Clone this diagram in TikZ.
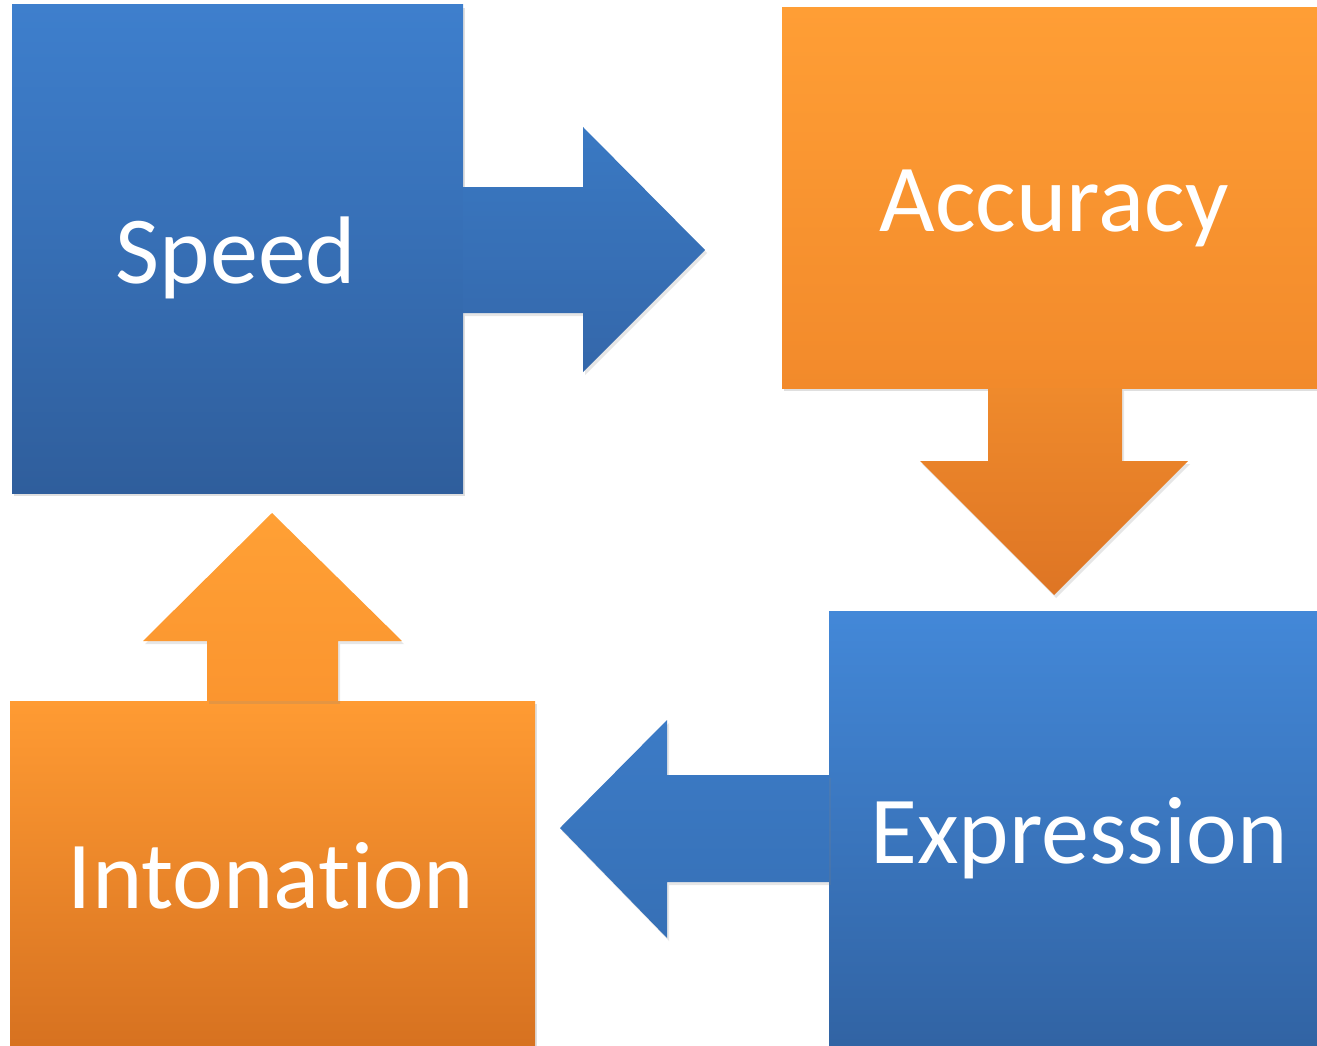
\documentclass[tikz,border=0pt]{standalone}
\usepackage{fontspec}
\setmainfont{Carlito}[Ligatures=NoCommon]
\usepackage{tikz}
\usetikzlibrary{calc,shadows}
\definecolor{spdtop}{HTML}{3E7FCD}
\definecolor{spdbot}{HTML}{2F5E9C}
\definecolor{acctop}{HTML}{FF9E35}
\definecolor{accbot}{HTML}{F28A2B}
\definecolor{exptop}{HTML}{4388D8}
\definecolor{expbot}{HTML}{3163A3}
\definecolor{inttop}{HTML}{FF9B33}
\definecolor{intbot}{HTML}{D67120}
\definecolor{rarrtop}{HTML}{3A79C3}
\definecolor{rarrbot}{HTML}{3467AA}
\definecolor{darrtop}{HTML}{EF8A2C}
\definecolor{darrbot}{HTML}{DE7524}
\definecolor{larrtop}{HTML}{3C7BC6}
\definecolor{larrbot}{HTML}{3670B6}
\definecolor{uarrtop}{HTML}{FFA035}
\definecolor{uarrbot}{HTML}{FB952F}
\tikzset{
  box/.style={inner sep=0pt,
    drop shadow={shadow xshift=2pt, shadow yshift=-3pt, opacity=0.25}},
  bluebox/.style 2 args={box, top color=#1, bottom color=#2},
  orangebox/.style 2 args={box, top color=#1, bottom color=#2},
  label/.style={inner sep=0pt, text=white, font=\fontsize{96}{110}\selectfont},
  arrowfill/.style 2 args={top color=#1, bottom color=#2, draw=none,
    drop shadow={shadow xshift=2pt, shadow yshift=-3pt, opacity=0.2}}
}

\begin{document}
\begin{tikzpicture}[x=1pt,y=-1pt]
\useasboundingbox (0,0) rectangle (1317,1046);
% the four boxes
\node[bluebox={spdtop}{spdbot}, minimum width=451pt, minimum height=488pt] (speed) at (237.5,249) {};
\node[orangebox={acctop}{accbot}, minimum width=540pt, minimum height=380pt] (accuracy) at (1052,198) {};
\node[bluebox={exptop}{expbot}, minimum width=490pt, minimum height=440pt] (expression) at (1074,831) {};
\node[orangebox={inttop}{intbot}, minimum width=525pt, minimum height=350pt] (intonation) at (272.5,876) {};
% block arrows
\shade[arrowfill={rarrtop}{rarrbot}] (speed.east |- 0,187) -- (583,187) -- (583,127) -- (705,250)
  -- (583,372) -- (583,313) -- (speed.east |- 0,313) -- cycle;
\shade[arrowfill={darrtop}{darrbot}] (988,0 |- accuracy.south) -- (988,461) -- (920,461) -- (1054,595)
  -- (1188,461) -- (1122,461) -- (1122,0 |- accuracy.south) -- cycle;
\shade[arrowfill={larrtop}{larrbot}] (expression.west |- 0,775) -- (667,775) -- (667,720) -- (560,828)
  -- (667,938) -- (667,882) -- (expression.west |- 0,882) -- cycle;
\shade[arrowfill={uarrtop}{uarrbot}] (207,0 |- intonation.north) -- (207,641) -- (143,641) -- (272,513)
  -- (402,641) -- (338,641) -- (338,0 |- intonation.north) -- cycle;
% labels
\node[label] (speedtxt) at (236,258) {Speed};
\node[label] (acctxt) at (1054,208) {Accuracy};
\node[label] (exptxt) at (1079,838) {Expression};
\node[label] (inttxt) at (271,876) {Intonation};
\end{tikzpicture}
\end{document}
